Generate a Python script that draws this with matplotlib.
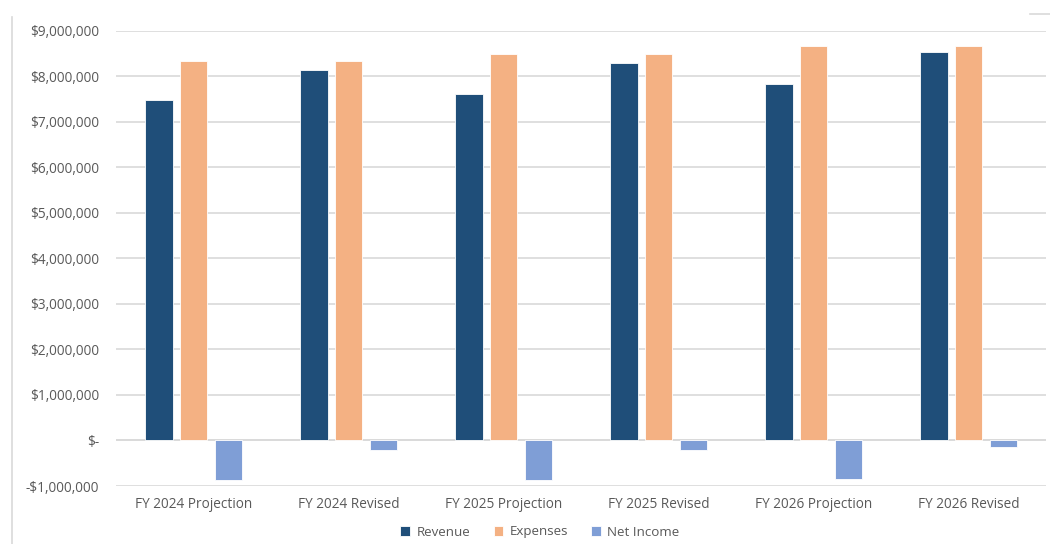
import numpy as np
import matplotlib.pyplot as plt
from matplotlib.lines import Line2D
from matplotlib.ticker import FuncFormatter

# ----------------------------
# Budget figures per scenario
# ----------------------------

categories = ['FY 2024 Projection', 'FY 2024 Revised', 'FY 2025 Projection',
              'FY 2025 Revised', 'FY 2026 Projection', 'FY 2026 Revised']
revenue = [7470000, 8130000, 7610000, 8280000, 7820000, 8520000]
expenses = [8330000, 8330000, 8480000, 8480000, 8670000, 8670000]
net_income = [-860000, -200000, -870000, -200000, -850000, -150000]

series = [('Revenue', revenue, '#1F4E79'),
          ('Expenses', expenses, '#F4B183'),
          ('Net Income', net_income, '#7F9ED6')]

def dollars(v, pos):
    if v == 0:
        return '$-'
    if v < 0:
        return '-${:,.0f}'.format(-v)
    return '${:,.0f}'.format(v)

# ----------------------------
# Plot
# ----------------------------

plt.rcParams['font.family'] = ['Open Sans', 'DejaVu Sans']
fig = plt.figure(figsize=(10.5, 5.44), dpi=100)
ax = fig.add_axes([0.1105, 0.1066, 0.8857, 0.8373])

x = np.arange(len(categories))
width = 0.175
step = 0.223
for i, (name, vals, col) in enumerate(series):
    ax.bar(x + (i - 1) * step, vals, width, color=col, label=name,
           edgecolor='white', linewidth=0.6, zorder=3)

ax.set_xlim(-0.5, len(categories) - 0.5)
ax.set_ylim(-1000000, 9000000)
ax.set_yticks(np.arange(-1000000, 9000001, 1000000))
ax.yaxis.set_major_formatter(FuncFormatter(dollars))
ax.set_xticks(x)
ax.set_xticklabels(categories)

ax.grid(axis='y', color='#D9D9D9', linewidth=1.2, zorder=0)
for s in ax.spines.values():
    s.set_visible(False)
ax.axhline(0, color='#D9D9D9', linewidth=1.2, zorder=1)
ax.tick_params(axis='both', length=0, colors='#595959', labelsize=9.8)
ax.tick_params(axis='y', pad=12)
ax.tick_params(axis='x', pad=8)

leg = fig.legend(loc='center', bbox_to_anchor=(540/1050, 1 - 532/544), ncol=3, frameon=False,
                 fontsize=9.6, handlelength=0.7, handleheight=0.7,
                 columnspacing=1.75, handletextpad=0.5)
for t in leg.get_texts():
    t.set_color('#595959')

# chart border bits
fig.add_artist(Line2D([12/1050, 12/1050], [0, 1 - 17/544], color='#D9D9D9', linewidth=1.2))
fig.add_artist(Line2D([1030/1050, 1050/1050], [1 - 14/544, 1 - 14/544], color='#D9D9D9', linewidth=1.2))

plt.savefig('out.png', dpi=100)
